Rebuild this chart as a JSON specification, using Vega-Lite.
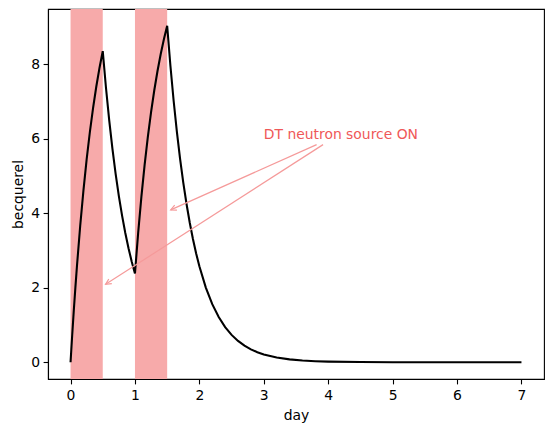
{
  "$schema": "https://vega.github.io/schema/vega-lite/v6.json",
  "width": 496,
  "height": 370,
  "autosize": {"type": "none"},
  "padding": {"left": 48, "top": 9, "right": 10, "bottom": 53},
  "background": "white",
  "config": {
    "view": {"stroke": "black", "strokeWidth": 1.1},
    "font": "DejaVu Sans",
    "axis": {
      "grid": false,
      "domainColor": "black",
      "domainWidth": 1.1,
      "tickColor": "black",
      "tickWidth": 1.1,
      "tickSize": 4.9,
      "labelPadding": 3.5,
      "labelFontSize": 13.9,
      "labelColor": "black",
      "labelFont": "DejaVu Sans",
      "titleFont": "DejaVu Sans",
      "titleFontSize": 13.9,
      "titleFontWeight": "normal",
      "titleColor": "black"
    }
  },
  "datasets": {
    "curve": [
      {"t": 0, "bq": 0},
      {"t": 0.025, "bq": 0.71},
      {"t": 0.05, "bq": 1.377},
      {"t": 0.075, "bq": 2.004},
      {"t": 0.1, "bq": 2.592},
      {"t": 0.15, "bq": 3.663},
      {"t": 0.2, "bq": 4.608},
      {"t": 0.25, "bq": 5.444},
      {"t": 0.3, "bq": 6.179},
      {"t": 0.35, "bq": 6.828},
      {"t": 0.4, "bq": 7.4},
      {"t": 0.45, "bq": 7.905},
      {"t": 0.5, "bq": 8.35},
      {"t": 0.55, "bq": 7.366},
      {"t": 0.6, "bq": 6.497},
      {"t": 0.65, "bq": 5.731},
      {"t": 0.7, "bq": 5.056},
      {"t": 0.75, "bq": 4.458},
      {"t": 0.8, "bq": 3.933},
      {"t": 0.85, "bq": 3.469},
      {"t": 0.9, "bq": 3.059},
      {"t": 0.95, "bq": 2.699},
      {"t": 1.0, "bq": 2.381},
      {"t": 1.05, "bq": 3.477},
      {"t": 1.1, "bq": 4.444},
      {"t": 1.15, "bq": 5.297},
      {"t": 1.2, "bq": 6.049},
      {"t": 1.25, "bq": 6.715},
      {"t": 1.3, "bq": 7.3},
      {"t": 1.35, "bq": 7.817},
      {"t": 1.4, "bq": 8.273},
      {"t": 1.45, "bq": 8.675},
      {"t": 1.5, "bq": 9.029},
      {"t": 1.55, "bq": 7.964},
      {"t": 1.6, "bq": 7.025},
      {"t": 1.65, "bq": 6.197},
      {"t": 1.7, "bq": 5.467},
      {"t": 1.75, "bq": 4.821},
      {"t": 1.8, "bq": 4.253},
      {"t": 1.85, "bq": 3.751},
      {"t": 1.9, "bq": 3.308},
      {"t": 1.95, "bq": 2.918},
      {"t": 2.0, "bq": 2.574},
      {"t": 2.1, "bq": 2.003},
      {"t": 2.2, "bq": 1.558},
      {"t": 2.3, "bq": 1.213},
      {"t": 2.4, "bq": 0.943},
      {"t": 2.5, "bq": 0.734},
      {"t": 2.6, "bq": 0.571},
      {"t": 2.7, "bq": 0.444},
      {"t": 2.8, "bq": 0.346},
      {"t": 2.9, "bq": 0.269},
      {"t": 3.0, "bq": 0.209},
      {"t": 3.2, "bq": 0.127},
      {"t": 3.4, "bq": 0.077},
      {"t": 3.6, "bq": 0.046},
      {"t": 3.8, "bq": 0.028},
      {"t": 4.0, "bq": 0.017},
      {"t": 4.5, "bq": 0.005},
      {"t": 5.0, "bq": 0.001},
      {"t": 6.0, "bq": 0},
      {"t": 7.0, "bq": 0}
    ],
    "spans": [
      {"start": 0, "end": 0.5},
      {"start": 1, "end": 1.5}
    ],
    "arrows": [
      {"x": 3.82, "y": 5.84, "x2": 1.555, "y2": 4.09, "angle": 246},
      {"x": 3.92, "y": 5.84, "x2": 0.544, "y2": 2.09, "angle": 237.4}
    ],
    "label": [
      {"x": 3, "y": 6, "text": "DT neutron source ON"}
    ]
  },
  "layer": [
    {
      "data": {"name": "spans"},
      "mark": {"type": "rect", "color": "#f7aaaa", "opacity": 1},
      "encoding": {
        "x": {
          "field": "start", "type": "quantitative",
          "scale": {"domain": [-0.35, 7.35], "nice": false, "zero": false},
          "axis": {"values": [0, 1, 2, 3, 4, 5, 6, 7], "title": "day", "titlePadding": 6, "labelPadding": 4.5, "format": "d"}
        },
        "x2": {"field": "end"}
      }
    },
    {
      "data": {"name": "curve"},
      "mark": {"type": "line", "color": "black", "strokeWidth": 2.08},
      "encoding": {
        "x": {"field": "t", "type": "quantitative"},
        "y": {
          "field": "bq", "type": "quantitative",
          "scale": {"domain": [-0.45, 9.48], "nice": false, "zero": false},
          "axis": {"values": [0, 2, 4, 6, 8], "title": "becquerel", "titlePadding": 5, "format": "d"}
        }
      }
    },
    {
      "data": {"name": "arrows"},
      "mark": {"type": "rule", "color": "#f59a9a", "strokeWidth": 1.2},
      "encoding": {
        "x": {"field": "x", "type": "quantitative"},
        "y": {"field": "y", "type": "quantitative"},
        "x2": {"field": "x2"},
        "y2": {"field": "y2"}
      }
    },
    {
      "data": {"name": "arrows"},
      "mark": {
        "type": "point",
        "shape": "M-0.5,1L0,0L0.5,1",
        "filled": false,
        "stroke": "#f59a9a",
        "strokeWidth": 1.2,
        "size": 125,
        "opacity": 1
      },
      "encoding": {
        "x": {"field": "x2", "type": "quantitative"},
        "y": {"field": "y2", "type": "quantitative"},
        "angle": {"field": "angle", "type": "quantitative", "scale": null}
      }
    },
    {
      "data": {"name": "label"},
      "mark": {
        "type": "text",
        "align": "left",
        "baseline": "alphabetic",
        "fontSize": 13.9,
        "font": "DejaVu Sans",
        "color": "#ef5858"
      },
      "encoding": {
        "x": {"field": "x", "type": "quantitative"},
        "y": {"field": "y", "type": "quantitative"},
        "text": {"field": "text"}
      }
    }
  ]
}
